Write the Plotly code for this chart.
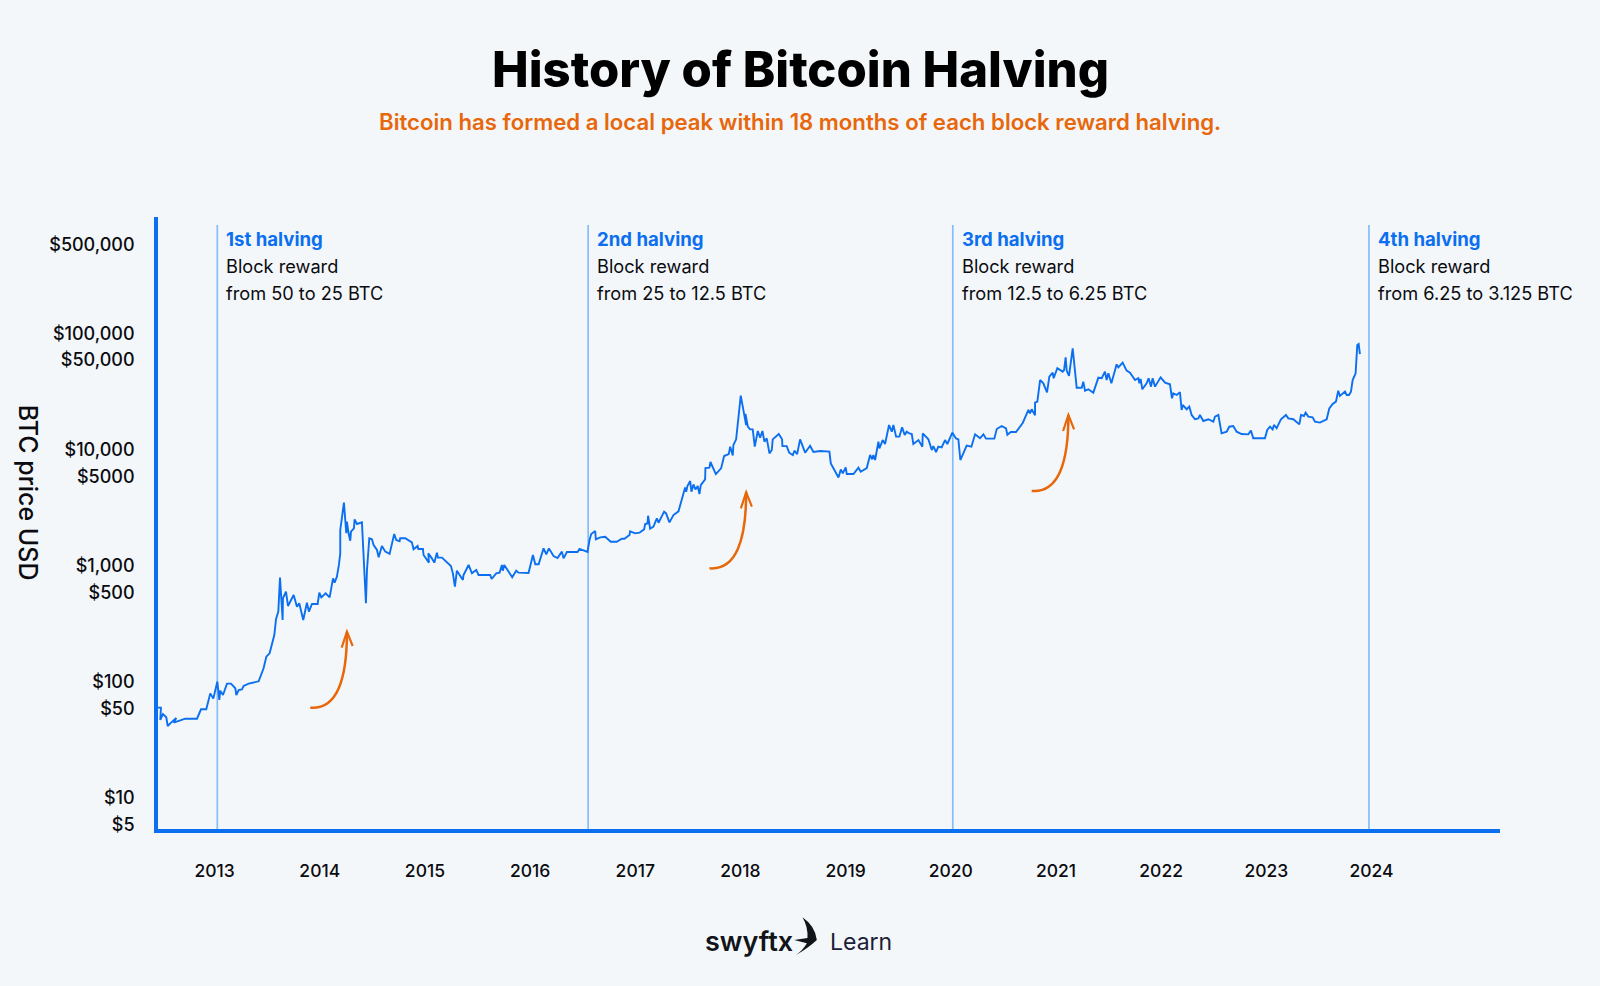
import numpy as np
import plotly.graph_objects as go

# ---------- data ----------
year_ticks = list(range(2013, 2025))
price_tick_positions = [5.9, 10, 59, 100, 590, 1000, 5900, 10000, 59000, 100000, 580000]
price_tick_labels = ["$5", "$10", "$50", "$100", "$500", "$1,000", "$5000", "$10,000", "$50,000", "$100,000", "$500,000"]

halving_years = [2013.026, 2016.552, 2020.019, 2023.976]
halving_names = ["1st halving", "2nd halving", "3rd halving", "4th halving"]
halving_rewards = ["from 50 to 25 BTC", "from 25 to 12.5 BTC", "from 12.5 to 6.25 BTC", "from 6.25 to 3.125 BTC"]

years = [
 2012.459,2012.490,2012.484,2012.509,2012.541,2012.554,2012.586,2012.636,2012.611,2012.722,2012.833,2012.871,2012.921,2012.959,2012.988,
 2013.026,2013.045,2013.054,2013.080,2013.118,2013.156,2013.197,2013.207,2013.229,2013.260,2013.276,2013.324,2013.419,2013.466,2013.492,
 2013.523,2013.555,2013.568,2013.584,2013.606,2013.622,2013.647,2013.650,2013.679,2013.698,2013.752,2013.783,2013.805,2013.843,2013.878,
 2013.897,2013.926,2013.980,2013.996,2014.015,2014.056,2014.094,2014.126,2014.141,2014.163,2014.182,2014.195,2014.195,2014.230,2014.252,
 2014.258,2014.274,2014.290,2014.297,2014.325,2014.331,2014.354,2014.401,2014.439,2014.449,2014.471,2014.496,2014.512,2014.544,2014.560,
 2014.591,2014.623,2014.664,2014.708,2014.727,2014.759,2014.765,2014.813,2014.876,2014.892,2014.930,2014.937,2014.981,2014.987,2015.038,
 2015.032,2015.066,2015.089,2015.114,2015.124,2015.162,2015.247,2015.266,2015.285,2015.304,2015.361,2015.367,2015.415,2015.447,2015.488,
 2015.510,2015.621,2015.634,2015.678,2015.710,2015.732,2015.741,2015.754,2015.830,2015.868,2015.890,2015.985,2016.027,2016.049,2016.081,
 2016.128,2016.154,2016.179,2016.223,2016.261,2016.302,2016.318,2016.350,2016.451,2016.470,2016.546,2016.565,2016.581,2016.619,2016.625,
 2016.667,2016.714,2016.767,2016.824,2016.872,2016.897,2016.945,2016.951,2016.999,
 2017.040,2017.084,2017.094,2017.116,2017.122,2017.141,2017.173,2017.205,2017.221,2017.274,2017.293,2017.325,2017.363,2017.411,2017.474,
 2017.484,2017.496,2017.522,2017.534,2017.553,2017.572,2017.594,2017.610,2017.623,2017.664,2017.667,2017.705,2017.715,2017.766,2017.816,
 2017.845,2017.889,2017.902,2017.927,2017.933,2017.959,2018.003,2018.054,2018.048,2018.070,2018.092,2018.117,2018.136,2018.165,2018.187,
 2018.209,2018.228,2018.250,2018.276,2018.298,2018.307,2018.364,2018.396,2018.399,2018.440,2018.463,2018.498,2018.513,2018.539,2018.567,
 2018.615,2018.662,2018.694,2018.757,2018.846,2018.859,2018.932,2018.954,2018.973,2019.001,2019.011,2019.074,2019.122,2019.144,2019.201,
 2019.233,2019.252,2019.264,2019.280,2019.312,2019.321,2019.353,2019.375,2019.413,2019.439,2019.454,2019.480,2019.511,2019.537,2019.562,
 2019.581,2019.606,2019.629,2019.644,2019.692,2019.730,2019.733,2019.787,2019.819,2019.834,2019.860,2019.882,2019.913,2019.945,2019.967,
 2020.015,2020.050,2020.072,2020.091,
 2020.151,2020.196,2020.231,2020.278,2020.310,2020.335,2020.414,2020.437,2020.484,2020.525,2020.538,2020.570,2020.620,2020.684,2020.738,
 2020.753,2020.769,2020.801,2020.801,2020.823,2020.849,2020.880,2020.915,2020.937,2020.969,2020.978,2021.013,2021.064,2021.077,2021.092,
 2021.102,2021.124,2021.159,2021.197,2021.245,2021.260,2021.276,2021.308,2021.355,2021.403,2021.435,2021.466,2021.482,2021.498,2021.527,
 2021.561,2021.577,2021.593,2021.634,2021.672,2021.704,2021.752,2021.783,2021.793,2021.805,2021.821,2021.862,2021.881,2021.904,2021.919,
 2021.942,2021.995,2022.037,2022.084,2022.103,2022.116,2022.148,2022.179,2022.195,2022.205,2022.243,2022.268,2022.290,2022.322,2022.354,
 2022.369,2022.401,2022.449,2022.496,2022.512,2022.544,2022.575,2022.623,2022.648,2022.686,2022.718,2022.765,2022.829,2022.854,2022.876,
 2022.924,2022.987,2023.009,2023.035,2023.060,2023.073,2023.098,2023.139,2023.187,2023.209,2023.257,2023.314,2023.330,2023.358,2023.374,
 2023.399,2023.440,2023.463,2023.510,2023.558,2023.574,2023.599,2023.631,2023.662,2023.684,2023.700,2023.725,2023.748,2023.764,2023.786,
 2023.805,2023.821,2023.849,2023.865,2023.878,2023.890,
]

log10_price = [
 1.778,1.778,1.672,1.723,1.695,1.620,1.649,1.689,1.649,1.683,1.683,1.764,1.764,1.901,1.856,
 2.002,1.844,1.924,1.887,1.985,1.985,1.945,1.887,1.930,1.936,1.965,1.985,2.005,2.117,2.217,
 2.246,2.375,2.404,2.539,2.605,2.898,2.533,2.720,2.777,2.654,2.748,2.648,2.677,2.533,2.682,
 2.605,2.671,2.671,2.769,2.728,2.763,2.728,2.892,2.855,2.906,3.007,3.107,3.308,3.544,3.280,
 3.380,3.280,3.216,3.294,3.323,3.400,3.360,3.374,2.677,2.964,3.237,3.228,3.179,3.136,3.073,
 3.171,3.122,3.102,3.274,3.222,3.211,3.237,3.237,3.202,3.142,3.171,3.145,3.145,3.093,3.027,
 3.107,3.064,3.027,3.113,3.070,3.070,2.998,2.935,2.820,2.958,2.878,2.921,3.007,2.935,2.964,
 2.921,2.921,2.886,2.935,2.941,3.007,2.958,3.007,2.901,2.958,2.941,2.938,3.093,3.013,3.013,
 3.150,3.099,3.150,3.084,3.067,3.122,3.064,3.119,3.119,3.145,3.119,3.222,3.274,3.300,3.228,
 3.245,3.250,3.207,3.207,3.233,3.233,3.265,3.296,3.279,
 3.285,3.314,3.360,3.365,3.431,3.319,3.337,3.408,3.371,3.466,3.451,3.374,3.437,3.469,3.675,
 3.638,3.687,3.730,3.638,3.701,3.658,3.687,3.618,3.695,3.744,3.842,3.845,3.894,3.790,3.839,
 3.945,3.962,4.026,3.951,4.040,4.089,4.465,4.212,4.307,4.198,4.175,4.175,4.026,4.161,4.103,
 4.161,4.069,4.097,3.968,3.997,4.089,4.135,4.089,4.031,4.031,3.974,3.954,3.991,3.962,4.089,
 3.974,4.034,3.980,3.988,3.983,3.882,3.761,3.830,3.796,3.848,3.790,3.790,3.845,3.810,3.842,
 3.954,3.917,3.954,3.911,4.069,4.011,4.083,4.049,4.212,4.155,4.212,4.112,4.112,4.192,4.126,
 4.155,4.140,4.135,4.049,4.083,4.026,4.140,4.089,3.997,4.031,3.980,4.026,4.020,4.083,4.049,
 4.146,4.097,4.089,3.911,
 4.035,4.026,4.132,4.098,4.132,4.095,4.095,4.178,4.204,4.184,4.129,4.152,4.152,4.230,4.342,
 4.313,4.348,4.296,4.405,4.414,4.600,4.572,4.494,4.629,4.663,4.615,4.701,4.672,4.686,4.796,
 4.681,4.635,4.873,4.534,4.534,4.586,4.508,4.520,4.491,4.620,4.615,4.672,4.600,4.658,4.572,
 4.701,4.735,4.709,4.750,4.681,4.663,4.600,4.615,4.572,4.609,4.520,4.572,4.615,4.543,4.615,
 4.543,4.623,4.577,4.563,4.442,4.485,4.471,4.494,4.342,4.385,4.348,4.371,4.299,4.262,4.270,
 4.299,4.247,4.262,4.241,4.285,4.299,4.141,4.155,4.198,4.204,4.155,4.135,4.132,4.164,4.098,
 4.098,4.098,4.170,4.198,4.175,4.213,4.184,4.262,4.299,4.270,4.262,4.218,4.299,4.290,4.319,
 4.285,4.279,4.241,4.233,4.256,4.262,4.356,4.394,4.414,4.508,4.463,4.485,4.500,4.471,4.471,
 4.500,4.600,4.658,4.902,4.910,4.824,
]
assert len(years) == len(log10_price), (len(years), len(log10_price))
prices = 10 ** np.array(log10_price)

# ---------- styles / layout ----------
W, H = 1600, 986
BG = "#f3f7fa"
BLUE = "#0b6ff0"
LIGHT = "#86bdf8"
ORANGE = "#e8670a"
INK = "#0b0b10"
FONT = "Inter"
L, R_PX, T, B_PX = 157.7, 1500, 217, 829

def px(x):
    return (x - L) / (R_PX - L)
def py(y):
    return (B_PX - y) / (B_PX - T)

fig = go.Figure()
fig.add_trace(go.Scatter(x=years, y=prices, mode="lines",
                         line=dict(color=BLUE, width=1.9), hoverinfo="skip", showlegend=False))

shapes = []
annots = []

for h, name, reward in zip(halving_years, halving_names, halving_rewards):
    shapes.append(dict(type="line", xref="x", yref="paper", x0=h, x1=h, y0=0, y1=py(225),
                       line=dict(color=LIGHT, width=1.7), layer="below"))
    for text_s, ypix, col, wt, size in [(name, 239, BLUE, 700, 18.6), ("Block reward", 265.5, INK, 400, 18.2), (reward, 292.5, INK, 400, 18.2)]:
        annots.append(dict(x=h, xref="x", y=py(ypix), yref="paper", xanchor="left", yanchor="middle",
                           xshift=7, text=text_s, showarrow=False,
                           font=dict(family=FONT, size=size, color=col, weight=wt)))

# curved orange arrows (tip positions in page pixels)
for tx, ty in [(346.7, 631.7), (746, 492.3), (1068.3, 415)]:
    p = lambda dx, dy: f"{px(tx+dx):.5f} {py(ty+dy):.5f}"
    shapes.append(dict(type="path", xref="paper", yref="paper",
                       path=f"M {p(-36.7,76)} C {p(-10,78)} {p(0,48)} {p(0,0)}",
                       line=dict(color=ORANGE, width=2.5), fillcolor="rgba(0,0,0,0)"))
    shapes.append(dict(type="path", xref="paper", yref="paper",
                       path=f"M {p(-5.3,16)} L {p(0,0)} L {p(5.7,14.3)}",
                       line=dict(color=ORANGE, width=2.2), fillcolor="rgba(0,0,0,0)"))

# logo bird
bird = [(802.3,917.3),(815,926),(816.7,940),(808,948),(796,955),(803,950),(806.7,943.3),(794,940),(807.3,938),(808,927),(802.3,917.3)]
b = [f"{px(x):.5f} {py(y):.5f}" for x, y in bird]
shapes.append(dict(type="path", xref="paper", yref="paper",
                   path=f"M {b[0]} Q {b[1]} {b[2]} Q {b[3]} {b[4]} Q {b[5]} {b[6]} L {b[7]} L {b[8]} Q {b[9]} {b[10]} Z",
                   fillcolor="#111418", line=dict(width=0)))

def text(x, y, s, size, col=INK, wt=400, anchor="center", angle=0):
    annots.append(dict(x=px(x), y=py(y), xref="paper", yref="paper", xanchor=anchor, yanchor="middle",
                       text=s, showarrow=False, textangle=angle,
                       font=dict(family=FONT, size=size, color=col, weight=wt)))

text(800, 70, "History of Bitcoin Halving", 49, "#000000", 800)
text(800, 121.5, "Bitcoin has formed a local peak within 18 months of each block reward halving.", 22.2, ORANGE, 600)
text(28, 493, "BTC price USD", 25, INK, 500, angle=90)
text(703, 941, "swyftx", 27, "#111418", 600, anchor="left")
text(828, 942, "Learn", 23, "#1a2036", 400, anchor="left")

fig.update_layout(
    width=W, height=H,
    paper_bgcolor=BG, plot_bgcolor=BG,
    margin=dict(l=L, r=W - R_PX, t=T, b=H - B_PX, pad=0, autoexpand=False),
    showlegend=False, shapes=shapes, annotations=annots,
    font=dict(family=FONT, color=INK),
    xaxis=dict(range=[2012.462, 2025.222], tickmode="array", tickvals=year_ticks,
               ticktext=[str(y) for y in year_ticks], showgrid=False, zeroline=False,
               showline=True, linecolor=BLUE, linewidth=3.6, ticks="", ticklabelstandoff=23,
               tickfont=dict(family=FONT, size=17.5, color=INK, weight=500)),
    yaxis=dict(type="log", range=[0.733, 6.004], tickmode="array", tickvals=price_tick_positions,
               ticktext=price_tick_labels, showgrid=False, zeroline=False,
               showline=True, linecolor=BLUE, linewidth=3.6, ticks="", ticklabelstandoff=16,
               tickfont=dict(family=FONT, size=18, color=INK, weight=500)),
)

fig.write_html("out.html", config={"displayModeBar": False},
               post_script="document.body.style.margin='0';document.body.style.overflow='hidden';")
